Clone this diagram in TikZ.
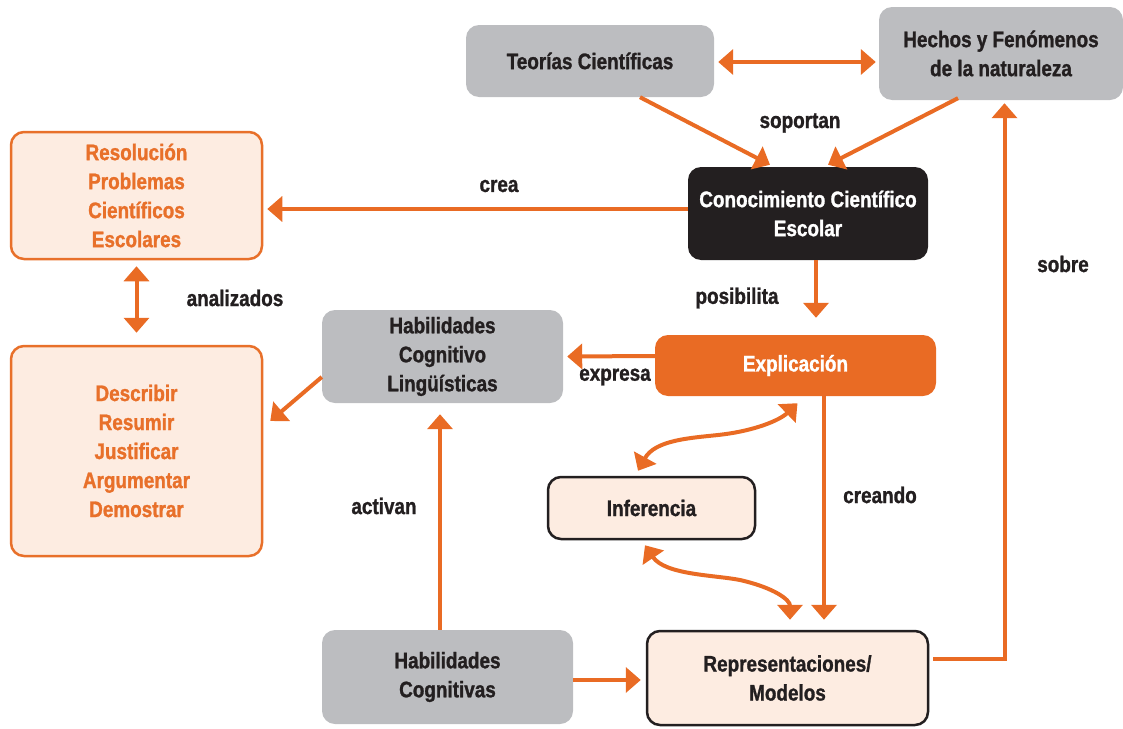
\documentclass[tikz,border=0pt]{standalone}
\usepackage{fontspec}
\setmainfont{Liberation Sans}[FakeStretch=0.84, BoldFeatures={FakeBold=1.2}]
\usetikzlibrary{arrows.meta,calc}

\definecolor{flow}{HTML}{E96B24}
\definecolor{ink}{HTML}{231F20}
\definecolor{stone}{HTML}{BCBDC0}
\definecolor{peach}{HTML}{FDECE1}
\definecolor{rust}{HTML}{E8702A}

\begin{document}
\begin{tikzpicture}[x=1pt, y=-1pt,
  font=\fontsize{22.5}{29}\selectfont\bfseries,
  base/.style={rounded corners=13pt, align=center, inner sep=0pt, text=ink},
  graybox/.style={base, fill=stone},
  darkbox/.style={base, fill=ink, text=white},
  flowbox/.style={base, fill=flow, text=white},
  paleorange/.style={base, fill=peach, draw=rust, line width=2.5pt, text=rust},
  paledark/.style={base, fill=peach, draw=ink, line width=2.5pt},
  arr/.style={draw=flow, line width=4pt, -{Triangle[length=15pt, width=25pt]}},
  arr2/.style={draw=flow, line width=4pt, {Triangle[length=15pt, width=25pt]}-{Triangle[length=15pt, width=25pt]}},
  lbl/.style={text=ink, inner sep=0pt}]

\useasboundingbox (0,0) rectangle (1123,728);

% concept boxes
\node[graybox, minimum width=248pt, minimum height=72pt] (teorias) at (590,61) {Teorías Científicas};
\node[graybox, minimum width=244pt, minimum height=93pt] (hechos) at (1001,53.5) {Hechos y Fenómenos\\de la naturaleza};
\node[darkbox, minimum width=240pt, minimum height=93pt] (conoc) at (808,213.5) {Conocimiento Científico\\Escolar};
\node[paleorange, minimum width=251pt, minimum height=127pt] (resol) at (136.5,195.5) {Resolución\\Problemas\\Científicos\\Escolares};
\node[paleorange, minimum width=251pt, minimum height=210pt] (descr) at (136.5,451) {Describir\\Resumir\\Justificar\\Argumentar\\Demostrar};
\node[graybox, minimum width=241pt, minimum height=93pt] (hcl) at (442.5,356.5) {Habilidades\\Cognitivo\\Lingüísticas};
\node[flowbox, minimum width=281pt, minimum height=61pt] (expl) at (795.5,365.5) {Explicación};
\node[paledark, minimum width=207pt, minimum height=62pt] (infer) at (651.5,508) {Inferencia};
\node[graybox, minimum width=251pt, minimum height=94pt] (hcog) at (447.5,677) {Habilidades\\Cognitivas};
\node[paledark, minimum width=281pt, minimum height=94pt] (repr) at (787.5,678) {Representaciones/\\Modelos};

% connectors
\draw[arr2] ($(teorias.east)+(4,1)$) -- ($(hechos.west |- teorias.east)+(-3,1)$);
\draw[arr] ($(teorias.south)+(50,0)$) -- ($(conoc.north)+(-38,-2)$);
\draw[arr] ($(hechos.south)+(-43,-2)$) -- ($(conoc.north)+(20,-2)$);
\draw[arr] ($(conoc.west)+(0,-4.5)$) -- ($(resol.east)+(4,13.5)$);
\draw[arr2] ($(resol.south)+(0,6)$) -- ($(descr.north)+(0,-12)$);
\draw[arr] ($(conoc.south)+(8,0)$) -- ($(expl.north)+(20.5,-17)$);
\draw[arr] ($(expl.west)+(0,-9.5)$) -- ($(hcl.east)+(4,0)$);
\draw[arr] ($(hcl.west)+(0,20.5)$) -- ($(descr.east)+(7,-30)$);
\draw[arr] ($(hcog.north)+(-7.5,0)$) -- ($(hcl.south)+(-2.5,11)$);
\draw[arr] ($(hcog.east)+(0,3)$) -- ($(repr.west)+(-5,2)$);
\draw[arr] ($(expl.south)+(28.5,0)$) -- ($(repr.north)+(36.5,-10)$);
\draw[arr] ($(repr.east)+(4,-19)$) -| ($(hechos.south)+(3.5,3)$);
\draw[arr2] ($(infer.north)+(-13.5,-5)$) .. controls (655,440) and (690,438) .. (718,435)
  .. controls (755,431) and (780,420) .. ($(expl.south)+(2,7)$);
\draw[arr2] ($(infer.south)+(-6.5,5)$) .. controls (665,575) and (715,575) .. (740,580)
  .. controls (775,588) and (790,600) .. ($(repr.north)+(2.5,-10)$);

% link labels
\node[lbl] (l1) at (800,123) {soportan};
\node[lbl] (l2) at (499,186) {crea};
\node[lbl] (l3) at (235,298) {analizados};
\node[lbl] (l4) at (737,298) {posibilita};
\node[lbl] (l5) at (615,377) {expresa};
\node[lbl] (l6) at (384,506) {activan};
\node[lbl] (l7) at (880,495) {creando};
\node[lbl] (l8) at (1063,264) {sobre};
\end{tikzpicture}
\end{document}
